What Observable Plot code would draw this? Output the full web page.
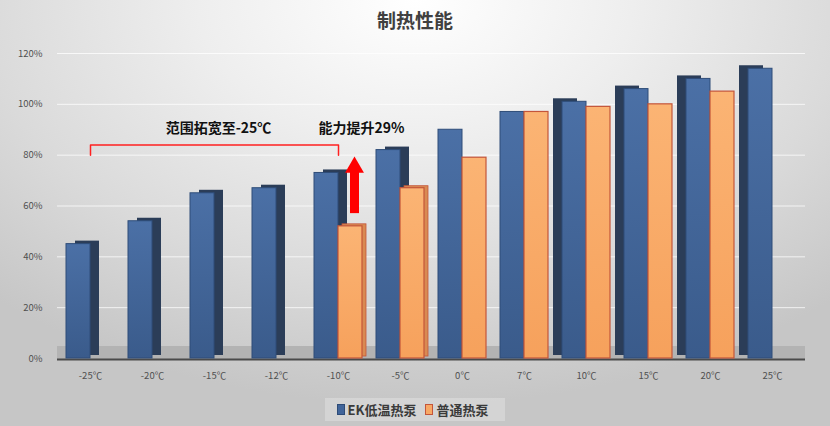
<!DOCTYPE html>
<html>
<head>
<meta charset="utf-8">
<script src="https://cdn.jsdelivr.net/npm/d3@7"></script>
<script src="https://cdn.jsdelivr.net/npm/@observablehq/plot@0.6"></script>
<style>
  html, body { margin: 0; padding: 0; }
  body {
    width: 830px; height: 426px; overflow: hidden;
    font-family: "Noto Sans CJK SC", "Noto Sans", sans-serif;
    background: radial-gradient(ellipse 75% 95% at 50% 0%, #ffffff 0%, #eeeeee 35%, #dadada 70%, #c6c6c6 100%);
  }
  #title { height: 40px; line-height: 40px; text-align: center; font-size: 19px; font-weight: bold; color: #404040; }
  #chart { height: 350px; }
  #legend { display: flex; justify-content: center; margin-top: 8px; }
  #legend .box { display: flex; align-items: center; padding: 0 8px 0 12px; height: 23px; background: rgba(255,255,255,0.25); font-size: 13px; font-weight: bold; color: #3a3a3a; }
  #legend .sw { display: inline-block; width: 6px; height: 9px; margin-right: 3px; }
  #legend .item { display: flex; align-items: center; margin-right: 9px; }
</style>
</head>
<body>
<div id="title">制热性能</div>
<div id="chart"></div>
<div id="legend"></div>
<script>
// ---- data ----
const categories = ["-25℃","-20℃","-15℃","-12℃","-10℃","-5℃","0℃","7℃","10℃","15℃","20℃","25℃"];
const ekValues     = [45, 54, 65, 67, 73, 82, 90, 97, 101, 106, 110, 114];
const normalValues = [null, null, null, null, 52, 67, 79, 97, 99, 100, 105, null];
const seriesNames  = ["EK低温热泵", "普通热泵"];
const yTickCount   = 6;
const rangeNote    = "范围拓宽至-25℃";
const gainNote     = "能力提升29%";
const bracketCats  = ["-25℃", "-10℃"];
const bracketLevels = [80, 84];
const arrowCat     = "-10℃";
const arrowFrom    = 57;
const arrowTo      = 74;
const arrowHead    = 75.2;
const noteLevel    = 90.5;

// ---- styles ----
const blue = "#41659a", blueEdge = "#2e4c78", blueSide = "#2b3d58";
const orange = "#f7a865", orangeEdge = "#c4553a", orangeSide = "#d98a52";

const ek = categories.map((c, i) => ({cat: c, v: ekValues[i], i}));
const normal = categories.map((c, i) => ({cat: c, v: normalValues[i], i})).filter(d => d.v != null);

const bracket = [
  {cat: bracketCats[0], v: bracketLevels[0]},
  {cat: bracketCats[0], v: bracketLevels[1]},
  {cat: bracketCats[1], v: bracketLevels[1]},
  {cat: bracketCats[1], v: bracketLevels[0]}
];

const blueInset = {insetLeft: 7, insetRight: 31};
const orangeInset = {insetLeft: 31, insetRight: 7};

const plot = Plot.plot({
  width: 830,
  height: 350,
  marginTop: 13,
  marginBottom: 32,
  marginLeft: 57,
  marginRight: 25,
  style: {background: "transparent", color: "#505050", fontSize: "9.5px", fontFamily: "'Noto Sans CJK SC', sans-serif"},
  x: {domain: categories, padding: 0, tickSize: 0, tickPadding: 14, label: null},
  y: {domain: [0, 120], ticks: yTickCount, tickSize: 0, tickPadding: 15, tickFormat: d => d + "%", label: null},
  marks: [
    Plot.ruleY(d3.ticks(0, 120, yTickCount).filter(t => t > 0), {stroke: "#ffffff", strokeOpacity: 0.75}),
    Plot.ruleY([0], {stroke: "#b3b3b3", strokeWidth: 13, dy: -6}),
    Plot.ruleY([0], {stroke: "#4a4a4a", strokeWidth: 2, dy: 1}),
    // depth faces
    Plot.barY(ek.filter(d => d.i <= 5), {x: "cat", y: "v", fill: blueSide, dx: 9, dy: -3, ...blueInset}),
    Plot.barY(ek.filter(d => d.i >= 8), {x: "cat", y: "v", fill: blueSide, dx: -9, dy: -3, ...blueInset}),
    Plot.barY(normal.filter(d => d.i <= 5), {x: "cat", y: "v", fill: orangeSide, stroke: orangeEdge, strokeWidth: 0.8, dx: 4, dy: -2, ...orangeInset}),
    // front faces
    Plot.barY(ek, {x: "cat", y: "v", fill: "url(#blueGrad)", stroke: blueEdge, strokeWidth: 1, ...blueInset}),
    Plot.barY(normal, {x: "cat", y: "v", fill: "url(#orangeGrad)", stroke: orangeEdge, strokeWidth: 1.2, ...orangeInset}),
    // annotations
    Plot.line(bracket, {x: "cat", y: "v", stroke: "#ff2020", strokeWidth: 1.5}),
    Plot.text([{cat: "-15℃", v: noteLevel}], {x: "cat", y: "v", text: () => rangeNote, dx: 4, fontSize: 14, fontWeight: "bold", fill: "#111"}),
    Plot.text([{cat: "-10℃", v: noteLevel}], {x: "cat", y: "v", text: () => gainNote, dx: 23, fontSize: 14, fontWeight: "bold", fill: "#111"}),
    Plot.ruleX([{cat: arrowCat, y1: arrowFrom, y2: arrowTo}], {x: "cat", y1: "y1", y2: "y2", stroke: "#ff0000", strokeWidth: 9, dx: 16}),
    Plot.dot([{cat: arrowCat, v: arrowHead}], {x: "cat", y: "v", symbol: "triangle", r: 7, fill: "#ff0000", stroke: "none", dx: 16})
  ]
});

// gradients for the bar faces
const ns = "http://www.w3.org/2000/svg";
const defs = document.createElementNS(ns, "defs");
defs.innerHTML = `
  <linearGradient id="blueGrad" x1="0" y1="0" x2="0" y2="1">
    <stop offset="0" stop-color="#4b70a6"/><stop offset="1" stop-color="#3a5b8b"/>
  </linearGradient>
  <linearGradient id="orangeGrad" x1="0" y1="0" x2="0" y2="1">
    <stop offset="0" stop-color="#fbb474"/><stop offset="1" stop-color="#f6a15c"/>
  </linearGradient>`;
plot.insertBefore(defs, plot.firstChild);
document.getElementById("chart").appendChild(plot);

const legend = document.getElementById("legend");
legend.innerHTML = `<div class="box">
  <span class="item"><span class="sw" style="background:${blue};border:1px solid ${blueEdge}"></span>${seriesNames[0]}</span>
  <span class="item"><span class="sw" style="background:${orange};border:1px solid ${orangeEdge}"></span>${seriesNames[1]}</span>
</div>`;
</script>
</body>
</html>
